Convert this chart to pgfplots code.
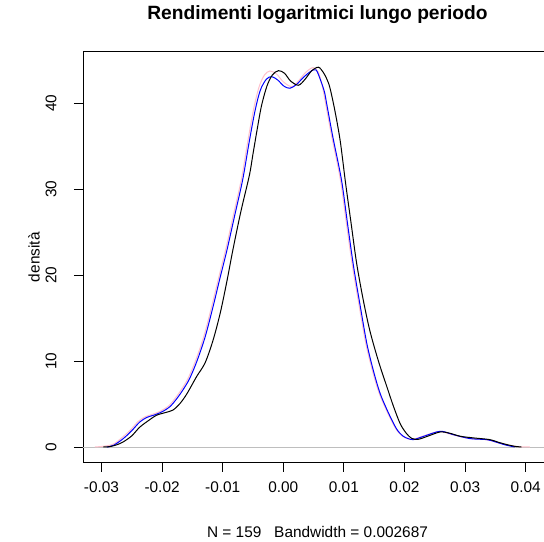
\documentclass[border=0pt]{standalone}
\usepackage{fontspec}
\setmainfont{Liberation Sans}
\usepackage{pgfplots}
\pgfplotsset{compat=1.18}
\definecolor{rgray}{HTML}{BEBEBE}
\definecolor{rpink}{HTML}{FFC0CB}
\begin{document}
\begin{tikzpicture}
\useasboundingbox (-83bp,-79.3bp) rectangle (461bp,462.7bp);
\clip (-83bp,-79.3bp) rectangle (461bp,462.7bp);
\begin{axis}[
  at={(0,0)}, anchor=south west,
  scale only axis, width=465.1bp, height=411bp,
  xmin=-0.03305, xmax=0.0437, ymin=-1.827, ymax=46.005,
  scaled x ticks=false, scaled y ticks=false,
  axis line style={line width=0.9bp},
  tick style={line width=0.9bp, black},
  tick align=outside, major tick length=9bp,
  xtick={-0.03,-0.02,-0.01,0,0.01,0.02,0.03,0.04},
  xticklabels={-0.03,-0.02,-0.01,0.00,0.01,0.02,0.03,0.04},
  ytick={0,10,20,30,40},
  yticklabels={0,10,20,30,40},
  xtick pos=bottom, ytick pos=left,
  ticklabel style={font=\fontsize{15.4bp}{18bp}\selectfont, inner sep=0pt},
  xticklabel style={anchor=center, yshift=-15.5bp},
  yticklabel style={rotate=90, anchor=center, yshift=23bp},
  every axis title shift=0pt,
  title={\bfseries Rendimenti logaritmici lungo periodo},
  title style={font=\fontsize{19.2bp}{22bp}\selectfont, at={(axis description cs:0.5042,1.0893)}, anchor=center, inner sep=0pt},
  xlabel={N = 159\hspace{0.834em}Bandwidth = 0.002687},
  xlabel style={font=\fontsize{15.4bp}{18bp}\selectfont, at={(axis description cs:0.5042,-0.1674)}, anchor=center, inner sep=0pt},
  ylabel={densità},
  ylabel style={font=\fontsize{15.4bp}{18bp}\selectfont, at={(axis description cs:-0.1054,0.5)}, anchor=center, rotate=0, inner sep=0pt},
  clip=true,
]
\addplot[rgray, line width=0.9bp, forget plot] coordinates {(-0.04,0) (0.05,0)};
\addplot[rpink, line width=1bp, smooth, tension=0.5] coordinates {
(-0.0311,0) (-0.0295,0.1) (-0.0280,0.35) (-0.0266,1.1) (-0.0252,2.0) (-0.0239,3.0)
(-0.0227,3.55) (-0.0216,3.8) (-0.0202,4.2) (-0.0189,4.8) (-0.0178,5.7) (-0.0168,6.7)
(-0.0157,8.0) (-0.0145,10.0) (-0.0131,12.9) (-0.0118,16.4) (-0.0107,19.6) (-0.0095,23.0)
(-0.0082,27.1) (-0.0069,31.2) (-0.0059,35.4) (-0.0049,39.3) (-0.0040,41.9) (-0.0031,43.3)
(-0.0022,43.76) (-0.0011,43.4) (0.0000,42.5) (0.0014,41.93) (0.0025,42.6) (0.0037,43.6)
(0.0049,44.15) (0.0058,43.6) (0.0065,41.8) (0.0070,39.9) (0.0080,36.1) (0.0094,31.2)
(0.0104,26.1) (0.0114,21.1) (0.0125,16.5) (0.0136,12.1) (0.0147,8.9) (0.0158,6.3)
(0.0172,4.0) (0.0185,2.2) (0.0195,1.35) (0.0204,1.0) (0.0213,0.88) (0.0230,1.25)
(0.0257,1.8) (0.0278,1.45) (0.0306,1.0) (0.0334,0.86) (0.0352,0.55) (0.0372,0.2)
(0.0390,0.03) (0.0407,0)};
\addplot[blue, line width=1bp, smooth, tension=0.5] coordinates {
(-0.0291,0) (-0.0280,0.2) (-0.0264,0.98) (-0.0250,1.9) (-0.0237,2.9) (-0.0225,3.45)
(-0.0214,3.7) (-0.0200,4.1) (-0.0187,4.7) (-0.0176,5.6) (-0.0166,6.6) (-0.0155,7.9)
(-0.0143,9.9) (-0.0129,12.8) (-0.0116,16.3) (-0.0105,19.5) (-0.0093,22.9) (-0.0080,27.0)
(-0.0067,31.1) (-0.0057,35.2) (-0.0047,39.0) (-0.0038,41.5) (-0.0028,42.8) (-0.0019,43.1)
(-0.0009,42.7) (0.0001,42.0) (0.0011,41.75) (0.0022,42.2) (0.0033,43.0) (0.0045,43.7)
(0.0054,43.9) (0.0062,42.6) (0.0068,41.3) (0.0072,39.8) (0.0082,36.0) (0.0096,31.1)
(0.0106,26.0) (0.0116,21.0) (0.0127,16.4) (0.0138,12.0) (0.0149,8.8) (0.0160,6.2)
(0.0174,3.9) (0.0187,2.1) (0.0197,1.3) (0.0206,0.98) (0.0215,0.86) (0.0232,1.25)
(0.0259,1.83) (0.0280,1.45) (0.0308,0.98) (0.0336,0.86) (0.0350,0.6) (0.0366,0.25)
(0.0382,0)};
\addplot[black, line width=1bp, smooth, tension=0.5] coordinates {
(-0.0297,0) (-0.0286,0.05) (-0.0275,0.25) (-0.0264,0.6) (-0.0250,1.3) (-0.0237,2.3)
(-0.0222,3.1) (-0.0209,3.7) (-0.0195,4.0) (-0.0182,4.3) (-0.0170,5.1) (-0.0159,6.2)
(-0.0143,8.2) (-0.0129,9.8) (-0.0116,12.4) (-0.0104,15.6) (-0.0093,19.3) (-0.0083,23.0)
(-0.0070,27.4) (-0.0056,31.6) (-0.0050,34.1) (-0.0043,37.0) (-0.0036,39.7) (-0.0027,42.0)
(-0.0018,43.3) (-0.0008,43.8) (0.0002,43.5) (0.0012,42.6) (0.0025,42.1) (0.0036,42.8)
(0.0047,43.8) (0.0058,44.2) (0.0066,43.6) (0.0072,42.8) (0.0077,41.8) (0.0085,39.2)
(0.0094,35.6) (0.0103,30.6) (0.0112,26.0) (0.0121,21.4) (0.0132,17.1) (0.0143,13.5)
(0.0157,10.0) (0.0171,7.0) (0.0182,4.7) (0.0193,2.7) (0.0203,1.6) (0.0212,1.0)
(0.0223,0.9) (0.0240,1.3) (0.0259,1.75) (0.0275,1.6) (0.0292,1.25) (0.0315,1.05)
(0.0341,0.86) (0.0355,0.55) (0.0369,0.28) (0.0382,0.08) (0.0393,0)};
\end{axis}
\end{tikzpicture}
\end{document}
